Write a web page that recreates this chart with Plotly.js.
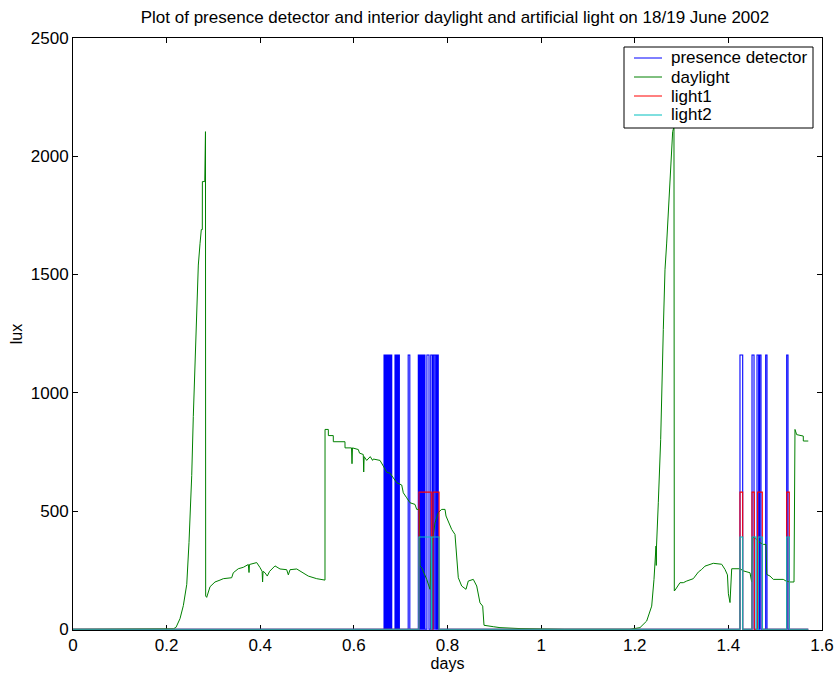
<!DOCTYPE html>
<html>
<head>
<meta charset="utf-8">
<script src="https://cdn.plot.ly/plotly-3.0.1.min.js"></script>
<style>html,body{margin:0;padding:0;background:#fff;}#chart{width:834px;height:675px;}</style>
</head>
<body>
<div id="chart"></div>
<script>
// ---- data (days, lux) ----
const dayT = [0,0.205,0.2143,0.2200,0.2286,0.2357,0.2430,0.2478,0.2536,0.2570,0.2606,0.2642,0.2677,0.2713,0.2741,0.2762,0.2764,0.2815,0.2817,0.2830,0.2834,
  0.2856,0.2927,0.3033,0.3140,0.3211,0.3390,0.3424,0.3531,0.3638,0.3745,0.3760,0.3770,0.3924,0.3995,0.4040,0.4050,0.4060,0.4101,0.4150,0.4200,0.4315,0.4422,0.4565,0.4600,0.4636,0.4779,0.4920,0.5026,0.5206,0.5383,
  0.5384,0.5454,0.5455,0.5560,0.5561,0.5810,0.5811,0.5950,0.5960,0.5970,0.6095,0.6120,0.6201,0.6210,0.6220,0.6274,0.6350,0.6400,0.6415,0.6558,0.6629,0.6701,0.6772,0.6915,0.7022,0.7056,0.7128,0.7199,0.7306,0.7342,0.7398,
  0.7413,0.7450,0.7556,0.7626,0.7662,0.7733,0.7804,0.7876,0.7947,0.7968,0.8017,0.8090,0.8160,0.8231,0.8303,0.8395,0.8444,0.8551,0.8624,0.8694,0.8752,0.8780,0.8978,0.9121,0.9549,1.0000,1.0500,
  1.1900,1.2112,1.2255,1.2362,1.2411,1.2454,1.2460,1.2465,1.2503,1.2525,1.2554,1.2610,1.2646,1.2682,1.2753,1.2789,1.2810,1.2838,1.2845,
  1.2863,1.2966,1.3037,1.3110,1.3251,1.3358,1.3430,1.3500,1.3678,1.3857,1.3928,1.3980,1.4000,1.4035,1.4071,1.4249,1.4319,1.4462,1.4498,1.4520,1.4605,1.4676,1.4747,1.4804,1.4819,1.4889,1.4960,1.5173,1.5231,1.5316,1.5402,
  1.5423,1.5459,1.5600,1.5601,1.5707];
const dayLux = [0,0,2,8,45,100,190,367,650,900,1150,1400,1540,1630,1690,1690,1893,1893,2104,2104,141,
  135,180,200,208,214,218,239,256,262,274,240,274,282,261,245,200,245,239,225,245,268,255,252,230,252,255,239,225,214,208,
  845,845,819,819,793,793,767,767,700,767,760,745,739,665,730,714,730,714,720,714,690,664,660,620,610,577,556,535,528,507,507,
  268,260,211,169,352,450,494,507,507,479,457,422,401,218,183,169,204,211,183,112,98,17,11,7,3,1,0,
  0,7,35,98,211,352,270,352,535,663,802,1267,1520,1633,1886,2069,2104,2125,162,
  166,197,197,204,214,242,253,267,279,275,253,230,150,113,256,256,247,239,200,390,380,366,359,359,232,225,211,211,204,200,200,
  845,823,817,796,796];

const presStart = [0.6644,0.6674,0.6704,0.6734,0.6764,0.6790,0.6878,0.6905,0.6932,0.6955,0.7160,0.7376,0.7404,0.7432,0.7460,0.7488,0.7505,0.7560,0.7642,0.7698,0.7735,0.7784,
  1.4248,1.4505,1.4612,1.4669,1.4797,1.5246];
const presEnd   = [0.6666,0.6696,0.6726,0.6756,0.6786,0.6809,0.6895,0.6922,0.6949,0.6972,0.7195,0.7390,0.7418,0.7446,0.7474,0.7500,0.7519,0.7605,0.7676,0.7728,0.7761,0.7803,
  1.4306,1.4548,1.4647,1.4697,1.4825,1.5274];
const presLevel = 1160;

const light1Start = [0.7390,0.7690,1.4248,1.4505,1.4625,1.5246];
const light1End   = [0.7654,0.7820,1.4306,1.4554,1.4725,1.5302];
const light1Level = 580;

const light2Start = [0.7390,0.7665,1.4248,1.4505,1.4640,1.5246];
const light2End   = [0.7655,0.7820,1.4306,1.4590,1.4725,1.5302];
const light2Level = 390;

const tEnd = 1.5707;
const seriesNames = ['presence detector','daylight','light1','light2'];
const seriesColors = ['#0000ff','#008000','#ff0000','#00bfbf'];
const xTickVals = [0,0.2,0.4,0.6,0.8,1,1.2,1.4,1.6];
const xTickText = ['0','0.2','0.4','0.6','0.8','1','1.2','1.4','1.6'];
const yTickVals = [0,500,1000,1500,2000,2500];
const yTickText = ['0','500','1000','1500','2000','2500'];
const titleText = 'Plot of presence detector and interior daylight and artificial light on 18/19 June 2002';

function pulses(starts, ends, level) {
  const x = [0], y = [0];
  for (let i = 0; i < starts.length; i++) {
    x.push(starts[i], starts[i], ends[i], ends[i]);
    y.push(0, level, level, 0);
  }
  x.push(tEnd); y.push(0);
  return {x, y};
}

const p = pulses(presStart, presEnd, presLevel);
const l1 = pulses(light1Start, light1End, light1Level);
const l2 = pulses(light2Start, light2End, light2Level);

const FONT = 'Liberation Sans, Arial, Helvetica, sans-serif';
const traces = [
  {x: p.x, y: p.y, name: seriesNames[0], mode: 'lines', line: {color: seriesColors[0], width: 1.1}},
  {x: dayT, y: dayLux, name: seriesNames[1], mode: 'lines', line: {color: seriesColors[1], width: 1}},
  {x: l1.x, y: l1.y, name: seriesNames[2], mode: 'lines', line: {color: seriesColors[2], width: 1.1}},
  {x: l2.x, y: l2.y, name: seriesNames[3], mode: 'lines', line: {color: seriesColors[3], width: 1.1}}
];

// plot area geometry (pixels) for the hand-placed legend box
const W = 834, H = 675, ML = 73, MR = 12, MT = 38, MB = 45;
const pw = W - ML - MR, ph = H - MT - MB;
const px2x = v => (v - ML) / pw;
const py2y = v => (H - MB - v) / ph;

const shapes = [{type: 'rect', xref: 'paper', yref: 'paper', x0: px2x(624), x1: px2x(813), y0: py2y(128), y1: py2y(47),
  fillcolor: '#fff', line: {color: '#000', width: 1}, layer: 'above'}];
const annotations = [];
seriesNames.forEach((nm, i) => {
  const cy = 58 + 19 * i;
  shapes.push({type: 'line', xref: 'paper', yref: 'paper', x0: px2x(634), x1: px2x(662), y0: py2y(cy), y1: py2y(cy),
    line: {color: seriesColors[i], width: 1}, layer: 'above'});
  annotations.push({xref: 'paper', yref: 'paper', x: px2x(669), y: py2y(cy), text: nm, showarrow: false,
    xanchor: 'left', yanchor: 'middle', font: {family: FONT, size: 17, color: '#000'}});
});

const axisCommon = {
  showline: true, linecolor: '#000', linewidth: 1, mirror: 'ticks',
  ticks: 'inside', ticklen: 5, tickcolor: '#000', showgrid: false, zeroline: false,
  layer: 'below traces', tickfont: {family: FONT, size: 17, color: '#000'}, tickmode: 'array'
};

const layout = {
  width: W, height: H,
  margin: {l: ML, r: MR, t: MT, b: MB},
  paper_bgcolor: '#fff', plot_bgcolor: '#fff',
  font: {family: FONT, size: 16, color: '#000'},
  title: {text: titleText, font: {family: FONT, size: 17, color: '#000'}, x: 0.51, xref: 'paper', xanchor: 'center', y: 0.975, yref: 'container', yanchor: 'middle'},
  xaxis: Object.assign({}, axisCommon, {range: [0, 1.6], tickvals: xTickVals, ticktext: xTickText, title: {text: 'days', font: {family: FONT, size: 16, color: '#000'}, standoff: 2}}),
  yaxis: Object.assign({}, axisCommon, {range: [-3, 2500], tickvals: yTickVals, ticktext: yTickText, title: {text: 'lux', font: {family: FONT, size: 16, color: '#000'}, standoff: 4}}),
  showlegend: false,
  shapes: shapes,
  annotations: annotations
};

Plotly.newPlot('chart', traces, layout, {displayModeBar: false, staticPlot: true});
</script>
</body>
</html>
